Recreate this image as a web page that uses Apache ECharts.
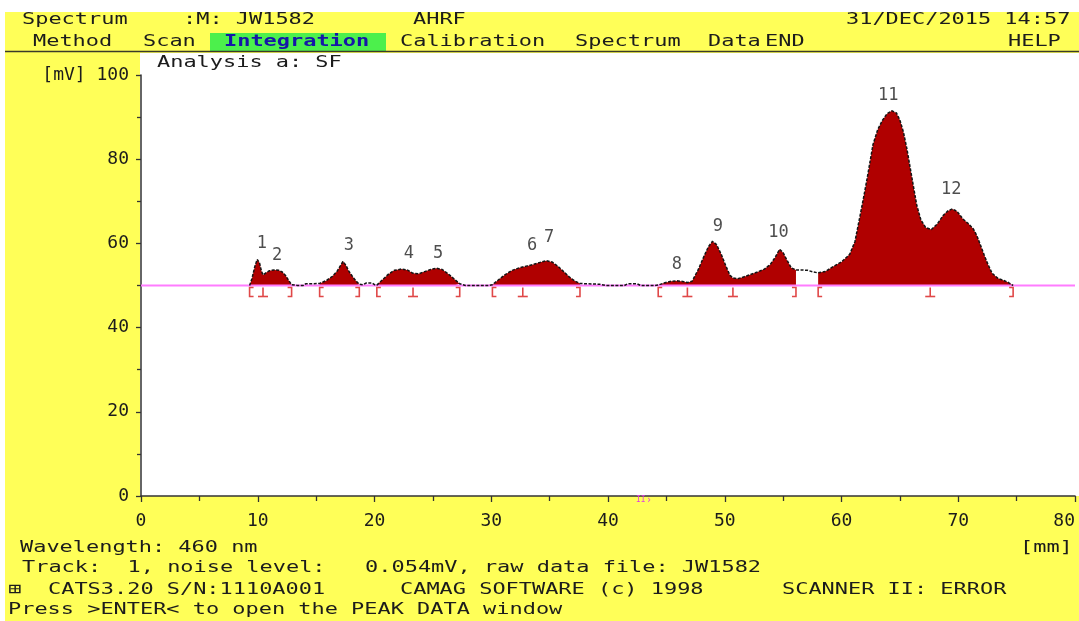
<!DOCTYPE html>
<html>
<head>
<meta charset="utf-8">
<title>Spectrum JW1582 – Integration</title>
<script src="https://cdn.jsdelivr.net/npm/echarts@6/dist/echarts.min.js"></script>
<style>
  html, body { margin: 0; padding: 0; background: #ffffff; }
  #chart { width: 1079px; height: 621px; }
</style>
</head>
<body>
<div id="chart"></div>
<script>
// Densitogram trace: position on the plate [mm] and detector signal [mV]
const traceMm = [
  9.3, 9.5, 9.75, 9.95, 10.15, 10.3, 10.45, 10.7, 11.0, 11.4, 11.8, 12.1, 12.4, 12.65, 12.9,
  13.4, 13.9, 14.1, 14.8,
  15.3, 15.9, 16.4, 16.8, 17.1, 17.3, 17.55, 17.8, 18.1, 18.4, 18.7,
  19.0, 19.3, 19.8, 20.0,
  20.2, 20.7, 21.2, 21.7, 22.3, 22.8, 23.3, 23.8, 24.3, 24.8, 25.3, 25.8, 26.3, 26.8, 27.3,
  27.8, 29.0, 29.8,
  30.1, 30.6, 31.2, 31.8, 32.4, 33.0, 33.6, 34.2, 34.7, 35.2, 35.7, 36.2, 36.7, 37.2, 37.6,
  38.2, 39.3, 39.8, 41.4, 41.7, 42.5, 42.8, 44.0,
  44.3, 44.8, 45.4, 46.0, 46.5, 46.8, 47.2, 47.7, 48.2, 48.6, 48.95, 49.3, 49.7, 50.1, 50.45,
  50.7, 51.1, 51.6, 52.2, 52.8, 53.4, 53.9, 54.3, 54.7, 55.0, 55.35, 55.7, 56.1,
  56.6, 57.1, 57.6,
  58.0, 58.6, 59.3, 60.0, 60.7, 61.15, 61.55, 61.9, 62.2, 62.7, 63.1, 63.5, 63.9, 64.3, 64.7,
  65.0, 65.3, 65.6, 65.85, 66.1, 66.45, 66.8, 67.2, 67.7, 68.2, 68.7, 69.1, 69.5, 69.9, 70.4,
  70.9, 71.3, 71.6, 71.9, 72.2, 72.5, 72.9, 73.4, 73.9, 74.3, 74.7
];
const traceMv = [
  50.0, 51.6, 54.5, 56.2, 55.4, 53.6, 52.5, 53.0, 53.5, 53.7, 53.6, 53.2, 52.3, 51.2, 50.2,
  50.0, 50.0, 50.4, 50.4,
  50.5, 51.2, 52.2, 53.4, 54.8, 55.7, 54.8, 53.4, 52.2, 51.1, 50.3,
  50.2, 50.6, 50.6, 50.2,
  50.1, 51.4, 52.7, 53.6, 53.9, 53.7, 52.9, 52.8, 53.3, 53.8, 54.1, 53.8, 52.8, 51.6, 50.4,
  50.0, 50.0, 50.0,
  50.2, 51.3, 52.6, 53.6, 54.2, 54.6, 55.0, 55.5, 55.9, 55.6, 54.6, 53.3, 52.0, 51.0, 50.5,
  50.4, 50.3, 50.0, 50.0, 50.4, 50.4, 50.0, 50.0,
  50.1, 50.6, 51.0, 51.1, 50.9, 50.7, 51.0, 53.6, 56.8, 59.2, 60.5, 59.7, 57.4, 54.6, 52.4,
  51.8, 51.6, 52.0, 52.6, 53.2, 53.9, 55.0, 56.6, 58.6, 57.8, 55.9, 54.2, 53.7,
  53.7, 53.6, 53.2,
  53.0, 53.3, 54.5, 55.6, 57.4, 60.4, 66.0, 71.0, 75.5, 83.5, 87.0, 89.2, 90.8, 91.5, 91.0,
  89.3, 86.5, 82.5, 78.5, 74.5, 69.0, 65.6, 63.8, 63.3, 64.6, 66.6, 67.7, 68.2, 67.6, 65.8,
  64.6, 63.4, 61.8, 59.6, 57.4, 55.3, 52.9, 51.7, 51.2, 50.7, 50.0
];

// Baseline used for integration [mV]
const baselineLevel = 50;

// Integrated windows [mm]: filled between trace and baseline
const windowStart = [9.3, 15.3, 20.2, 30.1, 44.3, 58.0];
const windowEnd   = [12.9, 18.7, 27.3, 37.6, 56.1, 74.7];

// Peak start / split / end markers along the baseline [mm]
const bracketMm   = [9.3, 10.45, 12.9, 15.3, 18.7, 20.2, 23.3, 27.3, 30.1, 32.7, 37.6, 44.3, 46.8, 50.7, 56.1, 58.0, 67.6, 74.7];
const bracketKind = ['[', '|', ']', '[', ']', '[', '|', ']', '[', '|', ']', '[', '|', '|', ']', '[', '|', ']'];

// Peak numbers and where they are written [mm, mV]
const peakIds    = ['1', '2', '3', '4', '5', '6', '7', '8', '9', '10', '11', '12'];
const peakLabelX = [10.36, 11.65, 17.8, 22.95, 25.45, 33.5, 34.95, 45.9, 49.4, 54.6, 64.0, 69.4];
const peakLabelY = [59.9, 57.0, 59.6, 57.5, 57.7, 59.4, 61.3, 54.9, 64.1, 62.5, 95.0, 72.9];

// Axis ticks
const xTickStep = 10, xMin = 0, xMax = 80;
const yTickStep = 20, yMin = 0, yMax = 100;

const MONO = '"DejaVu Sans Mono", monospace';
const INK = '#1c1c1c';
const SCREEN_YELLOW = '#ffff58';
const STRETCH = 1.37;

const tracePairs = traceMm.map((m, i) => [m, traceMv[i]]);

function text(str, x, y, styleExtra) {
  return {
    type: 'text', x: x, y: y, scaleX: STRETCH, z: 10,
    style: Object.assign({
      text: str, x: 0, y: 0, fill: INK,
      fontSize: 16, fontFamily: MONO, verticalAlign: 'middle', align: 'left'
    }, styleExtra || {})
  };
}

const fillSeries = windowStart.map((s, k) => ({
  type: 'line',
  name: 'area' + k,
  data: tracePairs.filter(p => p[0] >= s - 1e-9 && p[0] <= windowEnd[k] + 1e-9),
  showSymbol: false,
  symbol: 'none',
  lineStyle: { width: 0 },
  areaStyle: { color: '#b00000', opacity: 1, origin: baselineLevel },
  z: 2,
  silent: true
}));

const option = {
  animation: false,
  backgroundColor: 'transparent',
  grid: { left: 141, right: 4, top: 75, bottom: 125, containLabel: false, outerBoundsMode: 'none' },
  xAxis: {
    type: 'value', min: xMin, max: xMax, interval: xTickStep,
    axisLine: { show: true, onZero: false, lineStyle: { color: '#333', width: 1.5 } },
    axisTick: { show: true, length: 6, lineStyle: { color: '#333', width: 1.3 } },
    minorTick: { show: true, splitNumber: 2, length: 5, lineStyle: { color: '#333', width: 1.3 } },
    splitLine: { show: false },
    minorSplitLine: { show: false },
    axisLabel: { fontFamily: MONO, fontSize: 18, color: INK, margin: 16, alignMaxLabel: 'right', showMaxLabel: true, showMinLabel: true }
  },
  yAxis: {
    type: 'value', min: yMin, max: yMax, interval: yTickStep,
    axisLine: { show: true, onZero: false, lineStyle: { color: '#333', width: 1.5 } },
    axisTick: { show: true, length: 5, lineStyle: { color: '#333', width: 1.3 } },
    minorTick: { show: true, splitNumber: 2, length: 4, lineStyle: { color: '#333', width: 1.3 } },
    splitLine: { show: false },
    minorSplitLine: { show: false },
    axisLabel: {
      fontFamily: MONO, fontSize: 18, color: INK, margin: 12, showMaxLabel: true,
      formatter: v => (v === yMax ? '[mV] ' + v : String(v))
    }
  },
  series: fillSeries.concat([
    {
      type: 'line', name: 'baseline',
      data: [[xMin, baselineLevel], [xMax, baselineLevel]],
      symbol: 'none', lineStyle: { color: '#ff7cff', width: 2 }, z: 3, silent: true
    },
    {
      type: 'line', name: 'trace',
      data: tracePairs,
      symbol: 'none', showSymbol: false,
      lineStyle: { color: '#151515', width: 1.5, type: [3, 1.5] },
      z: 4, silent: true
    },
    {
      type: 'custom', name: 'brackets',
      data: bracketMm.map(m => [m, baselineLevel]),
      z: 4, silent: true, clip: false,
      renderItem: function (params, api) {
        const p = api.coord([api.value(0), api.value(1)]);
        const kind = bracketKind[params.dataIndex];
        const x = p[0], y = p[1] + 2, h = 9, w = 4;
        const st = { stroke: '#e04848', lineWidth: 1.6, fill: null };
        if (kind === '[') {
          return { type: 'polyline', shape: { points: [[x + w, y], [x, y], [x, y + h], [x + w, y + h]] }, style: st };
        }
        if (kind === ']') {
          return { type: 'polyline', shape: { points: [[x - w, y], [x, y], [x, y + h], [x - w, y + h]] }, style: st };
        }
        return {
          type: 'group',
          children: [
            { type: 'line', shape: { x1: x, y1: y, x2: x, y2: y + h }, style: st },
            { type: 'line', shape: { x1: x - w - 1, y1: y + h, x2: x + w + 1, y2: y + h }, style: st }
          ]
        };
      }
    },
    {
      type: 'scatter', name: 'peaks',
      data: peakIds.map((id, i) => [peakLabelX[i], peakLabelY[i], id]),
      symbolSize: 1, itemStyle: { color: 'rgba(0,0,0,0)' }, z: 5, silent: true,
      label: {
        show: true, position: 'inside', formatter: p => p.value[2],
        fontFamily: MONO, fontSize: 17, color: '#222'
      }
    }
  ]),
  graphic: [
    // screen background, plot window and menu bar
    { type: 'rect', z: -20, shape: { x: 5, y: 12, width: 1074, height: 609 }, style: { fill: SCREEN_YELLOW } },
    { type: 'rect', z: -19, shape: { x: 140, y: 53, width: 939, height: 443 }, style: { fill: '#ffffff' } },
    { type: 'rect', z: -18, shape: { x: 210, y: 33, width: 176, height: 19 }, style: { fill: '#4cf04c' } },
    { type: 'line', z: 9, shape: { x1: 5, y1: 51.5, x2: 1079, y2: 51.5 }, style: { stroke: '#3a3a2a', lineWidth: 1.6 } },

    text('Spectrum', 22, 20),
    text(':M: JW1582', 183, 20),
    text('AHRF', 413, 20),
    text('31/DEC/2015 14:57', 846, 20),

    text('Method', 33, 42),
    text('Scan', 143, 42),
    text('Integration', 224, 42, { fill: '#1616a8', fontWeight: 'bold' }),
    text('Calibration', 400, 42),
    text('Spectrum', 575, 42),
    text('Data', 708, 42),
    text('END', 765, 42),
    text('HELP', 1008, 42),

    text('Analysis a: SF', 157, 63),

    { type: 'text', z: 10, x: 636, y: 500, style: { text: 'II', fill: '#e040e0', fontSize: 8, fontFamily: MONO, verticalAlign: 'middle' } },
    { type: 'text', z: 10, x: 646, y: 500, style: { text: '›', fill: '#e040e0', fontSize: 10, fontFamily: MONO, verticalAlign: 'middle' } },

    text('Wavelength: 460 nm', 20, 548),
    text('[mm]', 1020, 548),
    text('Track:  1, noise level:   0.054mV, raw data file: JW1582', 22, 568),
    text('⊞', 8, 590),
    text('CATS3.20 S/N:1110A001', 48, 590),
    text('CAMAG SOFTWARE (c) 1998', 400, 590),
    text('SCANNER II: ERROR', 782, 590),
    text('Press >ENTER< to open the PEAK DATA window', 8, 610)
  ]
};

const chart = echarts.init(document.getElementById('chart'), null, { renderer: 'canvas' });
chart.setOption(option);
</script>
</body>
</html>
